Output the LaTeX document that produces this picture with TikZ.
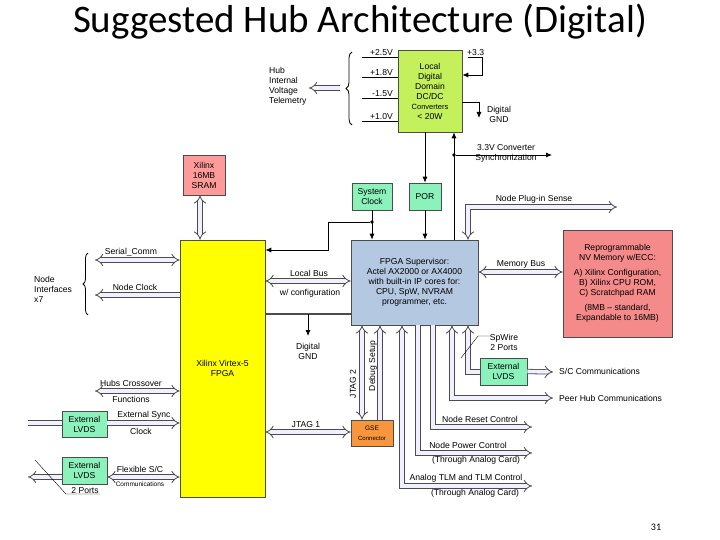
\documentclass[tikz,border=0pt]{standalone}
\usepackage{fontspec}
\setmainfont{Liberation Sans}
\newfontfamily\titlefont{Carlito}
\usetikzlibrary{arrows.meta,decorations.pathreplacing,calc}
\definecolor{dcgreen}{HTML}{C4F05C}
\definecolor{teal1}{HTML}{8CF2BC}
\definecolor{supblue}{HTML}{B4C8E2}
\definecolor{sram}{HTML}{FF9A9A}
\definecolor{nvred}{HTML}{F48A8A}
\definecolor{gseor}{HTML}{F7963C}
\definecolor{fpgay}{HTML}{FFFF00}
\begin{document}
\begin{tikzpicture}[x=1pt,y=-1pt,
  lbl/.style={font=\fontsize{8.6}{10}\selectfont,align=center,inner sep=1pt},
  sm/.style={font=\fontsize{6.5}{7.5}\selectfont,align=center,inner sep=1pt},
  boxs/.style={draw=gray!60!black,line width=0.6pt,font=\fontsize{8.6}{10}\selectfont,align=center,inner sep=0pt},
  hol/.style={draw=gray!60!black,double=blue!6,double distance=3.6pt,line width=0.8pt,-{Implies}},
  hold/.style={draw=gray!60!black,double=blue!6,double distance=3.6pt,line width=0.8pt,{Implies}-{Implies}},
  hola/.style={draw=gray!60!black,double=blue!6,double distance=3.6pt,line width=0.8pt},
  thin/.style={draw=black,line width=0.8pt},
  arr/.style={thin,-{Latex[length=6pt,width=5pt]}},
  dot/.style={circle,fill=black,inner sep=1.3pt}]
\useasboundingbox (0,0) rectangle (720,540);
\node[font=\titlefont\fontsize{39}{42}\selectfont] (title) at (360,22) {Suggested Hub Architecture (Digital)};
\node[font=\titlefont\fontsize{10}{12}\selectfont] (pg) at (656,527) {31};

% boxes
\node[boxs,fill=dcgreen,minimum width=64pt,minimum height=82pt] (dc) at (430,91) {Local\\Digital\\Domain\\DC/DC\\{\fontsize{7.5}{9.5}\selectfont Converters}\\< 20W};
\node[boxs,fill=teal1,minimum width=40pt,minimum height=27pt] (clk) at (372,196.5) {System\\Clock};
\node[boxs,fill=teal1,minimum width=32pt,minimum height=27pt] (por) at (425,196.5) {POR};
\node[boxs,fill=supblue,minimum width=127pt,minimum height=85pt] (sup) at (414.5,282.5) {FPGA Supervisor:\\Actel AX2000 or AX4000\\with built-in IP cores for:\\CPU, SpW, NVRAM\\programmer, etc.};
\node[boxs,fill=sram,minimum width=42pt,minimum height=40pt] (sram) at (204,175) {Xilinx\\16MB\\SRAM};
\node[boxs,fill=fpgay,minimum width=85pt,minimum height=257pt] (fpga) at (222.5,368.5) {Xilinx Virtex-5\\FPGA};
\node[boxs,fill=nvred,minimum width=109pt,minimum height=107pt] (nv) at (617.5,283.5) {Reprogrammable\\NV Memory w/ECC:\\[5pt]A) Xilinx Configuration,\\B) Xilinx CPU ROM,\\C) Scratchpad RAM\\[5pt](8MB -- standard,\\Expandable to 16MB)};
\node[boxs,fill=teal1,minimum width=45pt,minimum height=26pt] (lv1) at (84.5,424) {External\\LVDS};
\node[boxs,fill=teal1,minimum width=45pt,minimum height=27pt] (lv2) at (84.5,470.5) {External\\LVDS};
\node[boxs,fill=teal1,minimum width=47pt,minimum height=27pt] (lv3) at (503.5,371.5) {External\\LVDS};
\node[boxs,fill=gseor,minimum width=42pt,minimum height=26pt] (gse) at (372,433) {\fontsize{6.5}{7.5}\selectfont GSE\\\fontsize{6}{7.5}\selectfont Connector};

% voltage rails
\foreach \yy/\tt/\nm in {57/+2.5V/va,77/+1.8V/vb,98/-1.5V/vc,121/+1.0V/vd}{
  \coordinate (\nm) at (362,\yy);
  \draw[thin] (\nm) -- (dc.west |- \nm);
  \node[lbl,anchor=south east] at (394,\yy) {\tt};
}
\draw[thin,decorate,decoration={brace,amplitude=6pt}] (352,125) -- (352,52);
\coordinate (telS) at (340,88); \coordinate (telE) at (309,88);
\draw[hol] (telS) -- (telE);
\node[lbl,align=left,anchor=west] (tel) at (268,86) {Hub\\Internal\\Voltage\\Telemetry};

\node[lbl,anchor=south west] (p33) at (466,57) {+3.3};
\coordinate (p33a) at (482,57);
\draw[thin] (468,57) -- (p33a);
\draw[arr] (p33a) -- (482,75) -- (dc.east |- 0,75);
\coordinate (gnd1) at (479,102);
\draw[arr] (dc.east |- gnd1) -- (gnd1) -- (479,118);
\node[lbl] (g1t) at (499,114) {Digital\\GND};

% supervisor up to DC/DC, sync
\coordinate (sy) at (454,155);
\draw[arr] (sup.north -| 454,0) -- (dc.south -| 454,0);
\node[dot] (sydot) at (sy) {};
\draw[arr] (sydot) -- (552,155);
\node[lbl] (syt) at (506,153) {3.3V Converter\\Synchronization};
\draw[arr] (dc.south -| por) -- (por.north);
\draw[arr] (por) -- (por.south |- sup.north);
\node[dot] (cdot) at (372,222) {};
\draw[arr] (clk.south) -- (clk.south |- sup.north);
\draw[arr] (cdot) -- (328,222) -- (328,250) -- (fpga.east |- 0,250);

% SRAM
\draw[hold] (sram.south -| 200,0) -- (fpga.north -| 200,0);

% left interfaces
\coordinate (sc) at (95,260);
\draw[hold] (sc) -- (fpga.west |- sc);
\node[lbl,anchor=south] at (131,257) {Serial\_Comm};
\coordinate (nc) at (95,295);
\draw[hol] (fpga.west |- nc) -- (nc);
\node[lbl,anchor=south] at (135,292) {Node Clock};
\draw[thin,decorate,decoration={brace,amplitude=5pt}] (88,315) -- (88,253);
\node[lbl,align=left,anchor=west] (ni) at (33,289) {Node\\Interfaces\\x7};

\coordinate (hc) at (95,391);
\draw[hold] (hc) -- (fpga.west |- hc);
\node[lbl,anchor=south] at (131,388) {Hubs Crossover};
\node[lbl,anchor=north] at (131,395) {Functions};

\coordinate (l1) at (28,423);
\draw[hola] (l1) -- (lv1.west |- l1);
\draw[hol] (lv1.east |- l1) -- (fpga.west |- l1);
\node[lbl,anchor=south] at (144,420) {External Sync};
\node[lbl,anchor=north] at (141,427) {Clock};

\coordinate (l2) at (28,477);
\draw[hol] (lv2.west |- l2) -- (l2);
\draw[hold] (lv2.east |- l2) -- (fpga.west |- l2);
\node[lbl,anchor=south] at (140,474) {Flexible S/C};
\node[sm,anchor=north] at (140,481) {Communications};
\coordinate (sl) at (66,494);
\draw[thin,line width=0.4pt] (35,460) -- (sl) -- (100,494);
\node[lbl,anchor=south] at (85,495) {2 Ports};

% FPGA - supervisor
\coordinate (lb) at (265,281);
\draw[hold] (fpga.east |- lb) -- (sup.west |- lb);
\node[lbl,anchor=south] at (309,278) {Local Bus};
\node[lbl,anchor=north] at (310,288) {w/ configuration};
\coordinate (gb) at (308,314);
\draw[gray!60!black,line width=1.5pt] (fpga.east |- gb) -- (sup.west |- gb);
\draw[arr] (gb) -- (308,336);
\node[lbl] (g2t) at (308,351) {Digital\\GND};

\coordinate (j1) at (300,432);
\draw[hold] (fpga.east |- j1) -- (gse.west |- j1);
\node[lbl,anchor=south] at (306,429) {JTAG 1};
\draw[hold] (sup.south -| 362,0) -- (gse.north -| 362,0);
\node[lbl,rotate=90] at (353,384) {JTAG 2};
\draw[hol] (gse.north -| 380,0) -- (sup.south -| 380,0);
\node[lbl,rotate=90] at (373,366) {Debug Setup};

% supervisor bottom
\draw[hold] (sup.south -| 402,0) -- (402,486) -- (532,486);
\node[lbl,anchor=south] at (466,483) {Analog TLM and TLM Control};
\node[lbl,anchor=north] at (475,488) {(Through Analog Card)};
\draw[hol] (sup.south -| 418,0) -- (418,453) -- (532,453);
\node[lbl,anchor=south] at (468,450) {Node Power Control};
\node[lbl,anchor=north] at (476,455) {(Through Analog Card)};
\draw[hol] (sup.south -| 433,0) -- (433,427) -- (532,427);
\node[lbl,anchor=south] at (480,424) {Node Reset Control};
\draw[hold] (sup.south -| 452,0) -- (452,398) -- (553,398);
\node[lbl,anchor=west] at (558,398) {Peer Hub Communications};
\draw[hola,{Implies}-] (sup.south -| 468,0) -- (468,372) -- (lv3.west |- 0,372);
\draw[hol] (lv3.east) -- (553,372);
\node[lbl,anchor=west] at (558,371) {S/C Communications};
\node[lbl] (spw) at (504,342) {SpWire\\2 Ports};
\draw[thin,line width=0.4pt] (461,358) -- (478,336) -- (490,336);

\draw[hold] (sup.north -| 468,0) -- (468,207) -- (617,207);
\node[lbl,anchor=south] at (534,204) {Node Plug-in Sense};
\coordinate (mb) at (478,272);
\draw[hold] (sup.east |- mb) -- (nv.west |- mb);
\node[lbl,anchor=south] at (521,269) {Memory Bus};
\end{tikzpicture}
\end{document}
